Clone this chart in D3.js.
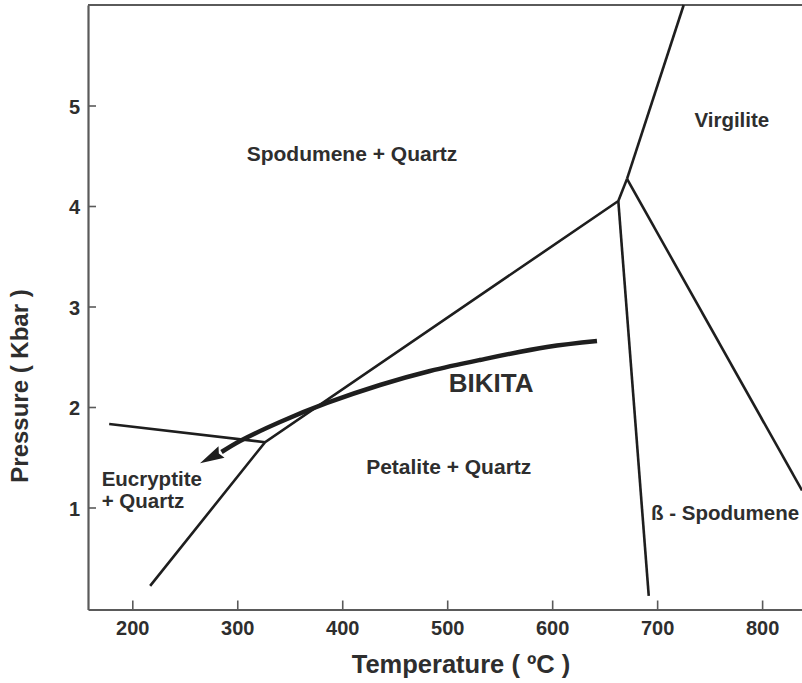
<!DOCTYPE html>
<html>
<head>
<meta charset="utf-8">
<script src="https://cdn.jsdelivr.net/npm/d3@7"></script>
<style>
  body { margin: 0; background: #fff; }
  svg text { font-family: "Liberation Sans", Arial, sans-serif; font-weight: bold; fill: #2e2e2e; }
</style>
</head>
<body>
<svg id="main_chart" width="802" height="683"></svg>
<script>
// phase boundaries, [temperature C, pressure kbar]
const eucryptiteLine = [[178, 1.83], [326.5, 1.65]];
const petaliteLine = [[217, 0.22], [326.5, 1.65], [663, 4.05]];
const betaLine = [[663, 4.05], [692, 0.12]];
const shortLine = [[663, 4.05], [671.3, 4.27]];
const virgiliteLine = [[671.3, 4.27], [725.3, 6.0]];
const betaVirgLine = [[671.3, 4.27], [838, 1.17]];

// Bikita path, arrow tip separate
const bikitaT = [642.7, 595.1, 531.2, 483.6, 436.0, 385.5, 340.7, 302.6, 285.0];
const bikitaP = [2.657, 2.597, 2.468, 2.358, 2.219, 2.040, 1.851, 1.662, 1.552];
const bikitaTip = [264.5, 1.44];

const xTicks = [200, 300, 400, 500, 600, 700, 800];
const yTicks = [1, 2, 3, 4, 5];

const fieldLabels = [
    {text: "Spodumene + Quartz", T: 309, P: 4.45, size: 21},
    {text: "Virgilite", T: 735.5, P: 4.79, size: 20.5},
    {text: "BIKITA", T: 501.5, P: 2.15, size: 26},
    {text: "Petalite + Quartz", T: 422.8, P: 1.33, size: 21},
    {text: "Eucryptite", T: 170.8, P: 1.21, size: 20.5},
    {text: "+ Quartz", T: 170.8, P: 0.995, size: 20.5},
    {text: "ß - Spodumene", T: 694.2, P: 0.88, size: 20.5}
];

let svg = d3.select("#main_chart");

let xScale = d3.scaleLinear()
    .domain([157.8, 838])
    .range([88, 802]);

let yScale = d3.scaleLinear()
    .domain([-0.015, 6])
    .range([609.5, 5]);

let line = d3.line()
    .x(d => xScale(d[0]))
    .y(d => yScale(d[1]));

// axes
let xAxis = svg.append('g')
    .attr("transform", "translate(0," + yScale(-0.015) + ")")
    .call(d3.axisBottom(xScale)
        .tickValues(xTicks)
        .tickFormat(d3.format("d"))
        .tickSizeInner(-9)
        .tickSizeOuter(0)
        .tickPadding(11));

let yAxis = svg.append('g')
    .attr("transform", "translate(" + xScale(157.8) + ",0)")
    .call(d3.axisLeft(yScale)
        .tickValues(yTicks)
        .tickFormat(d3.format("d"))
        .tickSizeInner(-8)
        .tickSizeOuter(0)
        .tickPadding(8));

[xAxis, yAxis].forEach(ax => {
    ax.select(".domain").attr("stroke", "#5a5a5a").attr("stroke-width", 2.2);
    ax.selectAll(".tick line").attr("stroke", "#5a5a5a").attr("stroke-width", 1.6);
    ax.selectAll(".tick text").style("font-size", "20px").attr("fill", "#2e2e2e");
});
yAxis.selectAll(".tick text").attr("dy", "0.38em");

// top border
svg.append("line")
    .attr("x1", xScale(157.8)).attr("x2", 802)
    .attr("y1", yScale(6)).attr("y2", yScale(6))
    .attr("stroke", "#5a5a5a").attr("stroke-width", 2.2);

// boundaries
let bounds = [eucryptiteLine, petaliteLine, betaLine, shortLine, virgiliteLine, betaVirgLine];
svg.append('g').selectAll("path")
    .data(bounds)
    .enter().append("path")
    .attr("d", line)
    .attr("fill", "none")
    .attr("stroke", "#1e1e1e")
    .attr("stroke-width", 2.6)
    .attr("stroke-linejoin", "miter");

// bikita path
let bikita = bikitaT.map((t, i) => [t, bikitaP[i]]);
svg.append("path")
    .attr("d", d3.line()
        .x(d => xScale(d[0]))
        .y(d => yScale(d[1]))
        .curve(d3.curveCatmullRom)(bikita))
    .attr("fill", "none")
    .attr("stroke", "#1e1e1e")
    .attr("stroke-width", 4.5);

// arrow head
let last = bikita[bikita.length - 1];
let bx = xScale(last[0]), by = yScale(last[1]);
let tx = xScale(bikitaTip[0]), ty = yScale(bikitaTip[1]);
let len = Math.hypot(tx - bx, ty - by);
let ux = (tx - bx) / len, uy = (ty - by) / len;
let hw = 6.5;
svg.append("path")
    .attr("d", "M" + tx + "," + ty +
        "L" + (bx - uy * hw) + "," + (by + ux * hw) +
        "L" + (bx + ux * 3) + "," + (by + uy * 3) +
        "L" + (bx + uy * hw) + "," + (by - ux * hw) + "Z")
    .attr("fill", "#1e1e1e");

// labels
svg.append('g').selectAll("text")
    .data(fieldLabels)
    .enter().append("text")
    .attr("x", d => xScale(d.T))
    .attr("y", d => yScale(d.P))
    .style("font-size", d => d.size + "px")
    .text(d => d.text);

// axis titles
svg.append("text")
    .attr("x", 461)
    .attr("y", 673)
    .attr("text-anchor", "middle")
    .style("font-size", "25.5px")
    .text("Temperature ( ºC )");

svg.append("text")
    .attr("transform", "translate(28,386) rotate(-90)")
    .attr("text-anchor", "middle")
    .style("font-size", "24px")
    .text("Pressure ( Kbar )");
</script>
</body>
</html>
